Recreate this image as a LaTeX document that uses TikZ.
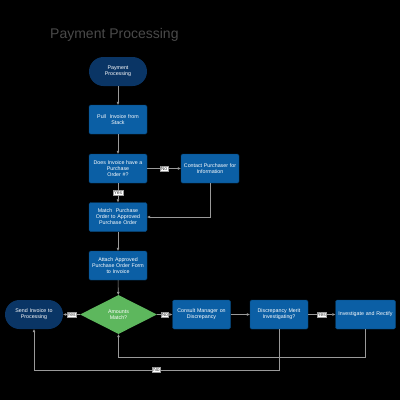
\documentclass[tikz,border=0pt]{standalone}
\usepackage{fontspec}
\setmainfont{Liberation Sans}
\usetikzlibrary{shapes.geometric,arrows.meta}
\definecolor{boxblue}{HTML}{0B5FA5}
\definecolor{navy}{HTML}{0A3565}
\definecolor{dgreen}{HTML}{5DB75D}
\definecolor{linegray}{HTML}{9A9A9A}
\definecolor{titlegray}{HTML}{4A4A4A}
\tikzset{
  procbox/.style={draw=boxblue!70!black, line width=0.4pt, fill=boxblue, rounded corners=1.5pt, minimum width=58pt, minimum height=29pt, text width=56pt, align=center, text=white, font=\fontsize{5.3}{6}\selectfont, inner sep=1pt},
  termbox/.style={fill=navy, rounded corners=14.5pt, minimum width=58pt, minimum height=29pt, text width=50pt, align=center, text=white, font=\fontsize{5.3}{6}\selectfont, inner sep=1pt},
  decbox/.style={diamond, fill=dgreen, minimum width=77pt, minimum height=39pt, aspect=2, inner sep=0pt, align=center, text=white, font=\fontsize{5.3}{6}\selectfont},
  conn/.style={draw=linegray, line width=0.55pt, -{Triangle[length=3pt,width=2.5pt]}},
  lbl/.style={fill=white, draw=linegray, line width=0.3pt, inner sep=0.7pt, font=\fontsize{5}{5.5}\selectfont, text=black!75},
}
\begin{document}
\begin{tikzpicture}[x=1pt,y=-1pt]
\fill[black] (0,0) rectangle (400,400);
\useasboundingbox (0,0) rectangle (400,400);
\node[anchor=west, text=titlegray, font=\fontsize{14}{16}\selectfont, inner sep=0pt] (title) at (50,35) {Payment Processing};
\node[termbox] (start) at (118,71.5) {Payment\\Processing};
\node[procbox] (pull) at (118,119.5) {Pull~ Invoice from\\Stack};
\node[procbox] (does) at (118,168.5) {Does Invoice have a\\Purchase\\Order \#?};
\node[procbox] (contact) at (210,168.5) {Contact Purchaser for\\Information};
\node[procbox] (match) at (118,217) {Match~ Purchase\\Order to Approved\\Purchase Order};
\node[procbox] (attach) at (118,265.5) {Attach Approved\\Purchase Order Form\\to Invoice};
\node[decbox] (amounts) at (118.5,314.5) {Amounts\\Match?};
\node[termbox] (send) at (34,314.5) {Send Invoice to\\Processing};
\node[procbox] (consult) at (201.5,314.5) {Consult Manager on\\Discrepancy};
\node[procbox] (merit) at (279,314.5) {Discrepancy Merit\\Investigating?};
\node[procbox, text width=58pt] (invest) at (365.5,314.5) {Investigate and Rectify};
\coordinate (c1) at (210,217);
\coordinate (c2) at (365.5,357);
\coordinate (c3) at (118.5,357);
\coordinate (c4) at (279,370);
\coordinate (c5) at (34,370);
\draw[conn] (start) -- (pull);
\draw[conn] (pull) -- (does);
\draw[conn] (does) -- node[lbl] {No} (contact);
\draw[conn] (does) -- node[lbl] {Yes} (match);
\draw[conn] (contact.south) -- (c1) -- (match.east);
\draw[conn] (match) -- (attach);
\draw[conn] (attach) -- (amounts);
\draw[conn] (amounts) -- node[lbl] {Yes} (send);
\draw[conn] (amounts) -- node[lbl] {No} (consult);
\draw[conn] (consult) -- (merit);
\draw[conn] (merit) -- node[lbl] {Yes} (invest);
\draw[conn] (invest.south) -- (c2) -- (c3) -- (amounts.south);
\draw[conn] (merit.south) -- (c4) -- node[lbl, pos=0.5] {No} (c5) -- (send.south);
\end{tikzpicture}
\end{document}
